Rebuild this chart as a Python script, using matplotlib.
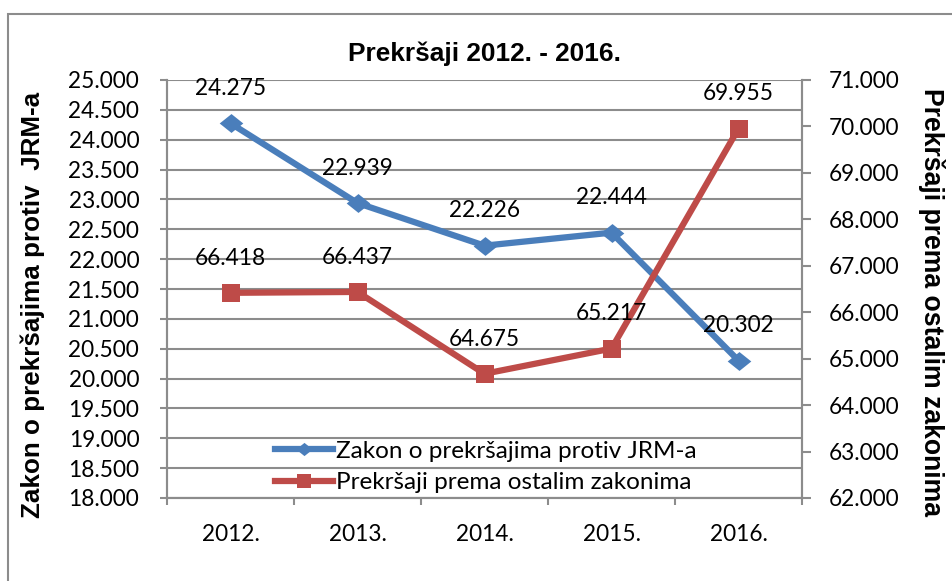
import matplotlib
matplotlib.use("Agg")
import matplotlib.pyplot as plt
from matplotlib.patches import Rectangle
from matplotlib.ticker import FuncFormatter, MultipleLocator, FixedLocator, NullFormatter

years = ["2012.", "2013.", "2014.", "2015.", "2016."]
jrm = [24275, 22939, 22226, 22444, 20302]
ostali = [66418, 66437, 64675, 65217, 69955]
title = "Prekršaji 2012. - 2016."
left_label = "Zakon o prekršajima protiv  JRM-a"
right_label = "Prekršaji prema ostalim zakonima"
legend_jrm = "Zakon o prekršajima protiv JRM-a"
legend_ost = "Prekršaji prema ostalim zakonima"

blue = "#4A7EBB"
red = "#BE4B48"
grid_c = "#8C8C8C"
tick_font = "Lato"
bold_font = "Liberation Sans"

W, H = 952, 581
fig = plt.figure(figsize=(W / 100, H / 100), dpi=100)
fig.patch.set_facecolor("white")
renderer = fig.canvas.get_renderer()


def fit_size(text, target_px, family, weight="normal", dim="w", start=16.0):
    t = fig.text(0, 0, text, fontsize=start, fontfamily=family, fontweight=weight)
    size = start
    for _ in range(3):
        bb = t.get_window_extent(renderer)
        cur = bb.width if dim == "w" else bb.height
        size = size * target_px / cur
        t.set_fontsize(size)
    t.remove()
    return size


fs = fit_size("25.000", 71, tick_font)
fs_leg = fit_size(legend_jrm, 361, tick_font)
fs_title = fit_size(title, 273, bold_font, "bold")
fs_left = fit_size(left_label, 424, bold_font, "bold")
fs_right = fit_size(right_label, 429, bold_font, "bold")

L, R, T, B = 167, 802, 80, 498
ax = fig.add_axes([L / W, 1 - B / H, (R - L) / W, (B - T) / H])
ax2 = ax.twinx()


def dotfmt(v, pos):
    return f"{v:,.0f}".replace(",", ".")


x = list(range(len(years)))

ax.set_xlim(-0.5, len(years) - 0.5)
ax.set_ylim(18000, 25000)
ax2.set_ylim(62000, 71000)
ax.yaxis.set_major_locator(MultipleLocator(500))
ax2.yaxis.set_major_locator(MultipleLocator(1000))
ax.yaxis.set_major_formatter(FuncFormatter(dotfmt))
ax2.yaxis.set_major_formatter(FuncFormatter(dotfmt))

ax.set_xticks(x)
ax.set_xticklabels(years)
ax.xaxis.set_minor_locator(FixedLocator([i - 0.5 for i in range(len(years) + 1)]))
ax.xaxis.set_minor_formatter(NullFormatter())
ax.tick_params(axis="x", which="major", length=0, pad=19)
ax.tick_params(axis="x", which="minor", length=5, width=1.5, color=grid_c, direction="out")
ax.tick_params(axis="y", length=5, width=1.5, color=grid_c, direction="out", pad=15)
ax2.tick_params(axis="y", length=6.5, width=1.5, color=grid_c, direction="out", pad=13)

for lab in ax.get_xticklabels() + ax.get_yticklabels() + ax2.get_yticklabels():
    lab.set_fontfamily(tick_font)
    lab.set_fontsize(fs)
    lab.set_color("black")

ax.grid(axis="y", color=grid_c, linewidth=1.5)
ax.set_axisbelow(True)
for a in (ax, ax2):
    a.spines["top"].set_visible(False)
    for s in ("left", "right", "bottom"):
        a.spines[s].set_color(grid_c)
        a.spines[s].set_linewidth(1.5)

diamond = [(-1, 0), (0, 0.8), (1, 0), (0, -0.8), (-1, 0)]
l1, = ax.plot(x, jrm, color=blue, linewidth=4.5, marker=diamond, markersize=17,
              markerfacecolor=blue, markeredgewidth=0, zorder=3, label=legend_jrm)
l2, = ax2.plot(x, ostali, color=red, linewidth=4.5, marker="s", markersize=13.5,
               markerfacecolor=red, markeredgewidth=0, zorder=3, label=legend_ost)

for xi, v in zip(x, jrm):
    ax.annotate(dotfmt(v, None), (xi, v), xytext=(0, 25), textcoords="offset points",
                ha="center", va="center", fontsize=fs, fontfamily=tick_font, color="black")
for xi, v in zip(x, ostali):
    ax2.annotate(dotfmt(v, None), (xi, v), xytext=(0, 25), textcoords="offset points",
                 ha="center", va="center", fontsize=fs, fontfamily=tick_font, color="black")

leg = ax2.legend([l1, l2], [legend_jrm, legend_ost], loc="center left",
                 bbox_to_anchor=((275 - L) / (R - L), (B - 467) / (B - T)),
                 frameon=False, borderpad=0, borderaxespad=0,
                 handlelength=58 / (fs_leg * 1.389), handletextpad=3 / (fs_leg * 1.389),
                 labelspacing=0.45, markerscale=0.7,
                 prop={"family": tick_font, "size": fs_leg})

fig.text((L + R) / 2 / W, 1 - 61 / H, title, ha="center", va="baseline",
         fontsize=fs_title, fontweight="bold", fontfamily=bold_font)
fig.text(33 / W, 1 - 305 / H, left_label, ha="center", va="center", rotation=90,
         fontsize=fs_left, fontweight="bold", fontfamily=bold_font)
fig.text(932 / W, 1 - 302 / H, right_label, ha="center", va="center", rotation=-90,
         fontsize=fs_right, fontweight="bold", fontfamily=bold_font)

fig.patches.append(Rectangle((8 / W, -0.05), 1.1, 1.05 - 14 / H, transform=fig.transFigure,
                             fill=False, edgecolor="#8C8C8C", linewidth=1.5, zorder=0))

fig.savefig("out.png", dpi=100, facecolor="white")
